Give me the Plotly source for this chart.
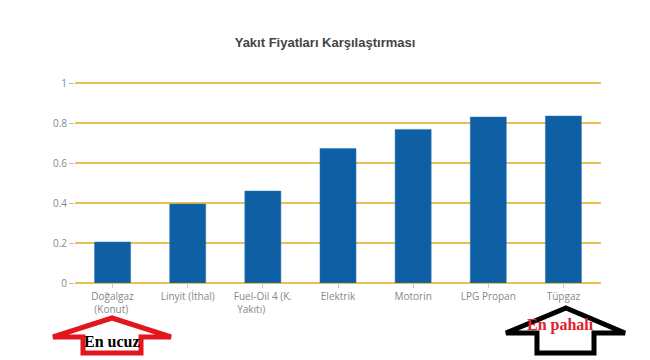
import plotly.graph_objects as go

categories = ["Doğalgaz (Konut)", "Linyit (İthal)", "Fuel-Oil 4 (K. Yakıtı)", "Elektrik",
              "Motorin", "LPG Propan", "Tüpgaz"]
tick_labels = ["Doğalgaz<br>(Konut)\u00a0", "Linyit (İthal)", "Fuel-Oil 4 (K.<br>Yakıtı)" + "\u00a0" * 9,
               "Elektrik", "Motorin", "LPG Propan", "Tüpgaz"]
values = [0.205, 0.395, 0.46, 0.672, 0.768, 0.83, 0.835]
y_ticks = [0, 0.2, 0.4, 0.6, 0.8, 1]
y_ticktext = ["0", "0.2", "0.4", "0.6", "0.8", "1"]

W, H = 650, 360
Y_TOP = 1.03
L, R, B = 75, 49, 77
PH = round(200 * Y_TOP)
T = H - B - PH
PW = W - L - R


def px2paper(x, y):
    return (x - L) / PW, (H - B - y) / PH


def arrow_path(pts):
    s = ""
    for i, (x, y) in enumerate(pts):
        px, py = px2paper(x, y)
        s += ("M" if i == 0 else "L") + f"{px:.4f},{py:.4f} "
    return s + "Z"


red_arrow = [(112, 318), (171, 337), (141, 337), (141, 353), (83, 353), (83, 337), (53, 337)]
black_arrow = [(566, 308), (625, 333), (594, 333), (594, 353), (537, 353), (537, 333), (506, 333)]

fig = go.Figure(go.Bar(
    x=categories, y=values,
    marker=dict(color="#0f5fa5", line=dict(color="#2a78bd", width=0.5)),
))

GOLD = "rgb(234,192,82)"

fig.update_layout(
    template="none",
    width=W, height=H,
    margin=dict(l=L, r=R, t=T, b=B, pad=0),
    paper_bgcolor="white", plot_bgcolor="white",
    bargap=0.52,
    showlegend=False,
    title=dict(text="Yakıt Fiyatları Karşılaştırması", x=0.5, xanchor="center", y=1 - 42 / H, yanchor="middle",
               font=dict(family="Liberation Sans", size=13, color="#444444", weight="bold")),
    font=dict(family="Open Sans", size=10, color="#888888"),
    xaxis=dict(tickmode="array", tickvals=categories, ticktext=tick_labels,
               ticks="outside", ticklen=4, tickcolor="#cccccc", tickwidth=1, tickangle=0,
               showgrid=False, showline=False, zeroline=False,
               tickfont=dict(family="Open Sans", size=10, color="#888888")),
    yaxis=dict(range=[0, Y_TOP], tickvals=y_ticks, ticktext=y_ticktext,
               ticks="outside", ticklen=5, tickcolor="#bbbbbb", tickwidth=1,
               showgrid=True, gridcolor=GOLD, gridwidth=1.5,
               zeroline=True, zerolinecolor=GOLD, zerolinewidth=1.5,
               showline=False,
               tickfont=dict(family="Open Sans", size=10, color="#888888")),
    shapes=[
        dict(type="path", xref="paper", yref="paper", path=arrow_path(red_arrow),
             line=dict(color="#e3161e", width=5), fillcolor="rgba(255,255,255,0)", layer="above"),
        dict(type="path", xref="paper", yref="paper", path=arrow_path(black_arrow),
             line=dict(color="#000000", width=5), fillcolor="rgba(255,255,255,0)", layer="above"),
    ],
    annotations=[
        dict(text="<b>En ucuz</b>", xref="paper", yref="paper",
             x=px2paper(112, 341)[0], y=px2paper(112, 341)[1], showarrow=False,
             xanchor="center", yanchor="middle",
             font=dict(family="Liberation Serif", size=16, color="#000000")),
        dict(text="<b>En pahalı</b>", xref="paper", yref="paper",
             x=px2paper(560, 325)[0], y=px2paper(560, 325)[1], showarrow=False,
             xanchor="center", yanchor="middle",
             font=dict(family="Liberation Serif", size=16, color="#e0202a")),
    ],
)

fig.write_html("out.html")
